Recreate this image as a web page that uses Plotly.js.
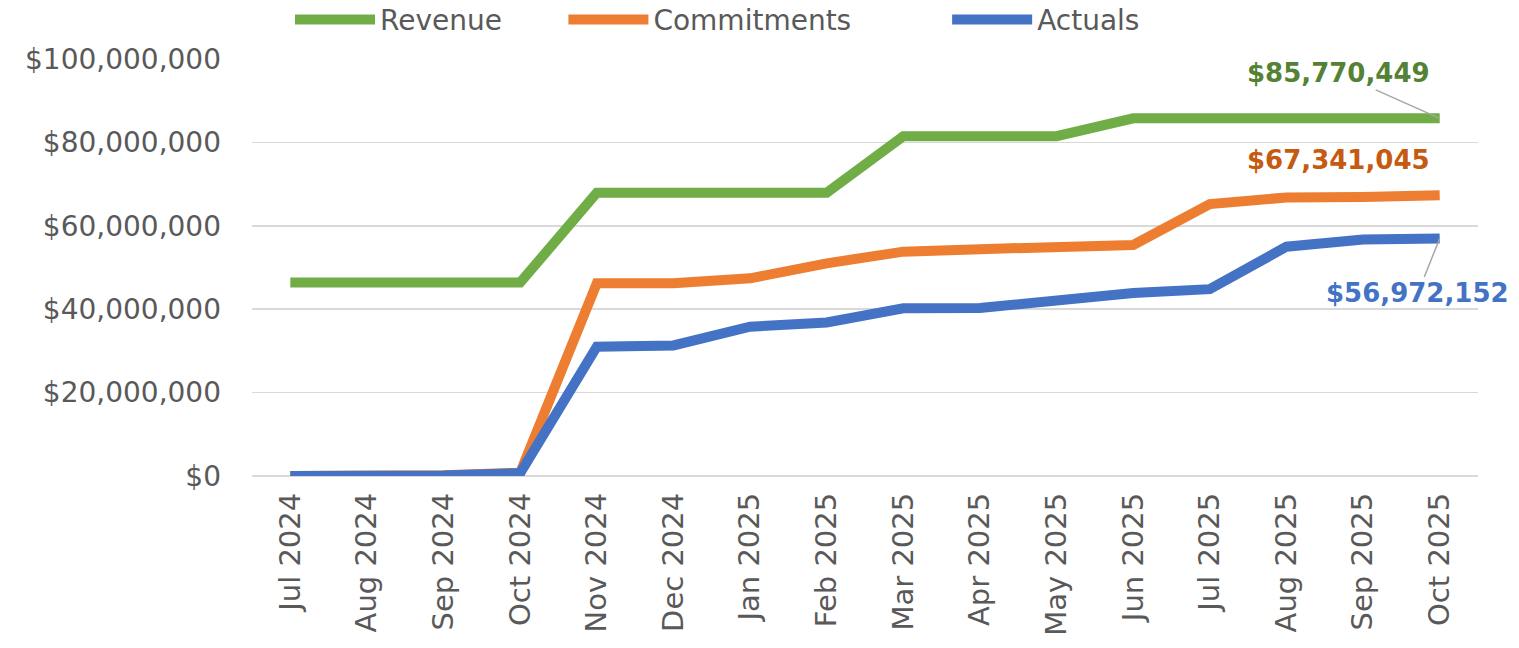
<!DOCTYPE html>
<html>
<head>
<meta charset="utf-8">
<script src="https://cdn.plot.ly/plotly-3.0.1.min.js"></script>
<style>
  html, body { margin: 0; padding: 0; background: #fff; }
  #chart { width: 1519px; height: 648px; }
</style>
</head>
<body>
<div id="chart"></div>
<script>
"use strict";

var months = ['Jul 2024', 'Aug 2024', 'Sep 2024', 'Oct 2024', 'Nov 2024', 'Dec 2024',
  'Jan 2025', 'Feb 2025', 'Mar 2025', 'Apr 2025', 'May 2025', 'Jun 2025',
  'Jul 2025', 'Aug 2025', 'Sep 2025', 'Oct 2025'];

var revenue = [46400000, 46400000, 46400000, 46400000, 67900000, 67900000,
  67900000, 67900000, 81500000, 81500000, 81500000, 85770449,
  85770449, 85770449, 85770449, 85770449];

var commitments = [0, 50000, 200000, 800000, 46200000, 46200000,
  47400000, 51000000, 53800000, 54400000, 54900000, 55400000,
  65200000, 66800000, 66900000, 67341045];

var actuals = [0, 0, 100000, 700000, 31000000, 31300000,
  35800000, 36800000, 40200000, 40300000, 42000000, 43900000,
  44800000, 55000000, 56700000, 56972152];

var yTickVals = [0, 20000000, 40000000, 60000000, 80000000, 100000000];
var yTickText = ['$0', '$20,000,000', '$40,000,000', '$60,000,000', '$80,000,000', '$100,000,000'];

var GREEN = '#70AD47';
var ORANGE = '#ED7D31';
var BLUE = '#4472C4';

function money(v) {
  return '$' + v.toLocaleString('en-US');
}

// each series gets its own legend box so the entries can sit where Excel put them
function series(name, values, color, legendId) {
  return {
    x: months,
    y: values,
    mode: 'lines',
    name: name,
    legend: legendId,
    line: {color: color, width: 10},
    hoverinfo: 'skip'
  };
}

var data = [
  series('Revenue', revenue, GREEN, 'legend'),
  series('Commitments', commitments, ORANGE, 'legend2'),
  series('Actuals', actuals, BLUE, 'legend3')
];

function legendAt(x) {
  return {
    orientation: 'h',
    x: x,
    xanchor: 'left',
    y: 1.094,
    yanchor: 'middle',
    itemwidth: 80,
    font: {family: 'DejaVu Sans, sans-serif', size: 28, color: '#595959'},
    bgcolor: 'rgba(0,0,0,0)'
  };
}

var last = months.length - 1;
var labelFont = {family: 'DejaVu Sans, sans-serif', size: 26, weight: 'bold'};

var layout = {
  width: 1519,
  height: 648,
  margin: {l: 252, r: 41, t: 59, b: 172, autoexpand: false},
  paper_bgcolor: '#ffffff',
  plot_bgcolor: '#ffffff',
  showlegend: true,
  legend: legendAt(0.031),
  legend2: legendAt(0.254),
  legend3: legendAt(0.567),
  xaxis: {
    type: 'category',
    range: [-0.5, 15.5],
    tickangle: -90,
    tickfont: {family: 'DejaVu Sans, sans-serif', size: 29, color: '#595959'},
    ticklabelstandoff: 10,
    showgrid: false,
    zeroline: false,
    showline: false,
    ticks: '',
    automargin: false
  },
  yaxis: {
    range: [0, 100000000],
    tickvals: yTickVals,
    ticktext: yTickText,
    tickfont: {family: 'DejaVu Sans, sans-serif', size: 28, color: '#595959'},
    gridcolor: '#d9d9d9',
    gridwidth: 1.5,
    zeroline: true,
    zerolinecolor: '#d9d9d9',
    zerolinewidth: 1.5,
    showline: false,
    ticks: '',
    ticklabelstandoff: 30,
    automargin: false
  },
  annotations: [
    {
      x: months[last], y: revenue[last],
      text: money(revenue[last]),
      font: Object.assign({color: '#548235'}, labelFont),
      showarrow: true, arrowhead: 0, arrowwidth: 1.5, arrowcolor: '#a6a6a6',
      ax: -101, ay: -45
    },
    {
      x: months[last], y: commitments[last],
      text: money(commitments[last]),
      font: Object.assign({color: '#C55A11'}, labelFont),
      showarrow: false,
      xshift: -101, yshift: 35
    },
    {
      x: months[last], y: actuals[last],
      text: money(actuals[last]),
      font: Object.assign({color: BLUE}, labelFont),
      showarrow: true, arrowhead: 0, arrowwidth: 1.5, arrowcolor: '#a6a6a6',
      ax: -22, ay: 55
    }
  ]
};

Plotly.newPlot('chart', data, layout, {displayModeBar: false, staticPlot: true});
</script>
</body>
</html>
